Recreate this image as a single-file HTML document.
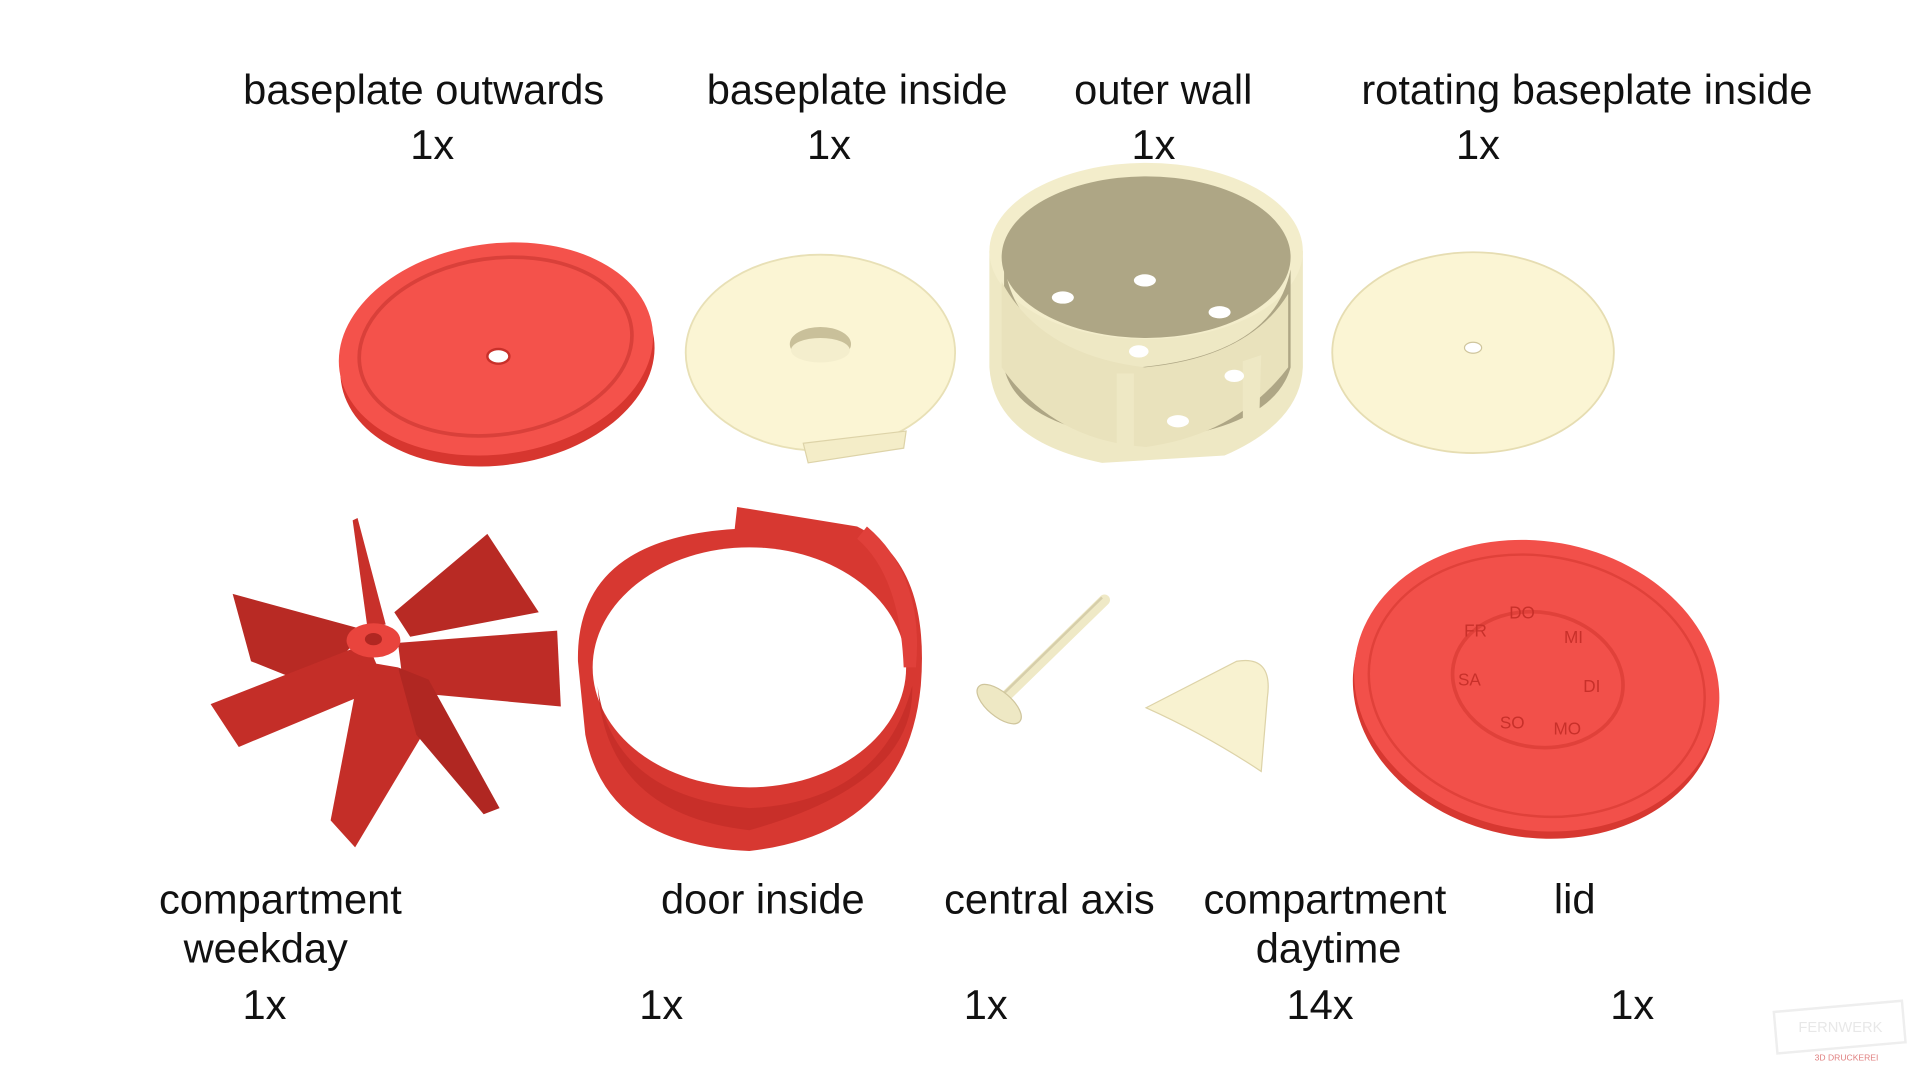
<!DOCTYPE html>
<html><head><meta charset="utf-8"><style>
html,body{margin:0;padding:0;background:#fff;}
svg{display:block;}
text{font-family:"Liberation Sans",sans-serif;font-size:34px;fill:#111;text-anchor:middle;}
</style></head><body>
<svg width="1920" height="1080" viewBox="0 0 1568 882" xmlns="http://www.w3.org/2000/svg">
<rect width="1568" height="882" fill="#fff"/>
<!-- labels top -->
<text x="346" y="85">baseplate outwards</text><text x="353" y="130">1x</text>
<text x="700" y="85">baseplate inside</text><text x="677" y="130">1x</text>
<text x="950" y="85">outer wall</text><text x="942" y="130">1x</text>
<text x="1296" y="85">rotating baseplate inside</text><text x="1207" y="130">1x</text>
<!-- labels bottom -->
<text x="229" y="746">compartment</text><text x="217" y="786">weekday</text><text x="216" y="832">1x</text>
<text x="623" y="746">door inside</text><text x="540" y="832">1x</text>
<text x="857" y="746">central axis</text><text x="805" y="832">1x</text>
<text x="1082" y="746">compartment</text><text x="1085" y="786">daytime</text><text x="1078" y="832">14x</text>
<text x="1286" y="746">lid</text><text x="1333" y="832">1x</text>

<!-- baseplate outwards -->
<g transform="rotate(-8 405 285)">
<ellipse cx="405" cy="294" rx="129" ry="86" fill="#d7362f"/>
<ellipse cx="405" cy="285" rx="129" ry="86" fill="#f4524b"/>
<ellipse cx="405" cy="283" rx="112" ry="72" fill="none" stroke="#d9403a" stroke-width="3"/>
</g>
<ellipse cx="407" cy="291" rx="9" ry="6" fill="#fff" stroke="#c8302a" stroke-width="2"/>

<!-- baseplate inside -->
<ellipse cx="670" cy="288" rx="110" ry="80" fill="#fbf5d4" stroke="#e8e0b6" stroke-width="1.5"/>
<path d="M656,362 L740,352 L738,366 L660,378Z" fill="#f4edc8" stroke="#ddd3a8"/>
<ellipse cx="670" cy="281" rx="25" ry="14" fill="#c9c09a"/>
<ellipse cx="670" cy="286" rx="24" ry="10" fill="#f4eecd"/>

<!-- outer wall -->
<path d="M808,205 L808,300 Q812,360 900,378 L1000,372 Q1062,345 1064,300 L1064,205Z" fill="#eee8c4"/>
<ellipse cx="936" cy="205" rx="128" ry="72" fill="#f3edcb"/>
<ellipse cx="936" cy="210" rx="118" ry="66" fill="#aea685"/>
<path d="M820,215 Q830,290 930,300 Q1040,290 1054,220 L1054,300 Q1040,350 936,360 Q830,350 820,300Z" fill="#aea685"/>
<path d="M818,230 Q850,290 935,300 Q1020,292 1052,240 L1052,300 Q1010,355 936,365 Q860,360 818,300Z" fill="#e9e2bc"/>
<rect x="912" y="305" width="14" height="70" fill="#eee8c4"/>
<path d="M1015,295 L1030,290 L1028,355 L1015,360Z" fill="#eee8c4"/>
<g fill="#fff"><ellipse cx="868" cy="243" rx="9" ry="5"/><ellipse cx="935" cy="229" rx="9" ry="5"/><ellipse cx="996" cy="255" rx="9" ry="5"/><ellipse cx="930" cy="287" rx="8" ry="5"/><ellipse cx="1008" cy="307" rx="8" ry="5"/><ellipse cx="962" cy="344" rx="9" ry="5"/></g>

<!-- rotating baseplate inside -->
<ellipse cx="1203" cy="288" rx="115" ry="82" fill="#fbf5d4" stroke="#e6ddb2" stroke-width="1.5"/>
<ellipse cx="1203" cy="284" rx="7" ry="4.5" fill="#fff" stroke="#cfc59c"/>

<!-- weekday compartment -->
<g>
<polygon points="190,485 300,515 255,560 205,540" fill="#b82a24"/>
<polygon points="172,575 300,525 315,560 195,610" fill="#c42e28"/>
<polygon points="322,500 398,436 440,500 335,520" fill="#b82a24"/>
<polygon points="325,525 455,515 458,577 330,565" fill="#be2c26"/>
<polygon points="295,540 325,545 345,600 290,692 270,670" fill="#c42e28"/>
<polygon points="325,545 350,555 408,660 395,665 340,600" fill="#b02722"/>
<polygon points="288,425 292,423 315,510 300,512" fill="#c8302a"/>
<ellipse cx="305" cy="523" rx="22" ry="14" fill="#e9443d"/>
<ellipse cx="305" cy="522" rx="7" ry="5" fill="#b02722"/>
</g>

<!-- door inside -->
<path d="M472,540 Q470,440 600,432 L602,414 L700,430 Q760,460 752,560 Q740,680 612,695 Q495,690 478,600Z" fill="#d73831"/>
<ellipse cx="612" cy="545" rx="128" ry="98" fill="#fff"/>
<path d="M488,560 Q500,650 612,660 Q720,655 745,560 Q748,640 612,678 Q495,665 488,560Z" fill="#c82f29"/>
<path d="M708,430 Q755,470 748,545 L738,545 Q735,470 700,440Z" fill="#e0403a"/>

<!-- central axis -->
<line x1="820" y1="570" x2="902" y2="490" stroke="#efe9c6" stroke-width="9" stroke-linecap="round"/>
<line x1="818" y1="568" x2="900" y2="488" stroke="#d6ceaa" stroke-width="2"/>
<ellipse cx="816" cy="575" rx="22" ry="10" transform="rotate(40 816 575)" fill="#eee8c4" stroke="#cfc59c"/>

<!-- daytime compartment -->
<path d="M936,578 L1010,540 Q1040,535 1035,570 L1030,630 Q985,600 936,578Z" fill="#f8f2d0" stroke="#ddd3a8"/>

<!-- lid -->
<g transform="rotate(10 1255 560)">
<ellipse cx="1255" cy="566" rx="150" ry="118" fill="#d73831"/>
<ellipse cx="1255" cy="560" rx="150" ry="118" fill="#f2504a"/>
<ellipse cx="1255" cy="560" rx="138" ry="106" fill="none" stroke="#e0413a" stroke-width="2"/>
<ellipse cx="1255" cy="555" rx="70" ry="55" fill="none" stroke="#e0413a" stroke-width="3"/>
</g>
<g font-size="14" fill="#d33a34" style="font-size:14px">
<text x="1243" y="505" style="font-size:14px;fill:#c8302a">DO</text>
<text x="1285" y="525" style="font-size:14px;fill:#c8302a">MI</text>
<text x="1300" y="565" style="font-size:14px;fill:#c8302a">DI</text>
<text x="1280" y="600" style="font-size:14px;fill:#c8302a">MO</text>
<text x="1235" y="595" style="font-size:14px;fill:#c8302a">SO</text>
<text x="1200" y="560" style="font-size:14px;fill:#c8302a">SA</text>
<text x="1205" y="520" style="font-size:14px;fill:#c8302a">FR</text>
</g>

<!-- watermark -->
<rect x="1450" y="822" width="105" height="34" fill="none" stroke="#eee" stroke-width="2" transform="rotate(-5 1500 840)"/>
<text x="1503" y="843" style="font-size:12px;fill:#e8e8e8">FERNWERK</text>
<text x="1508" y="866" style="font-size:7px;fill:#e08080">3D DRUCKEREI</text>
</svg>
</body></html>
